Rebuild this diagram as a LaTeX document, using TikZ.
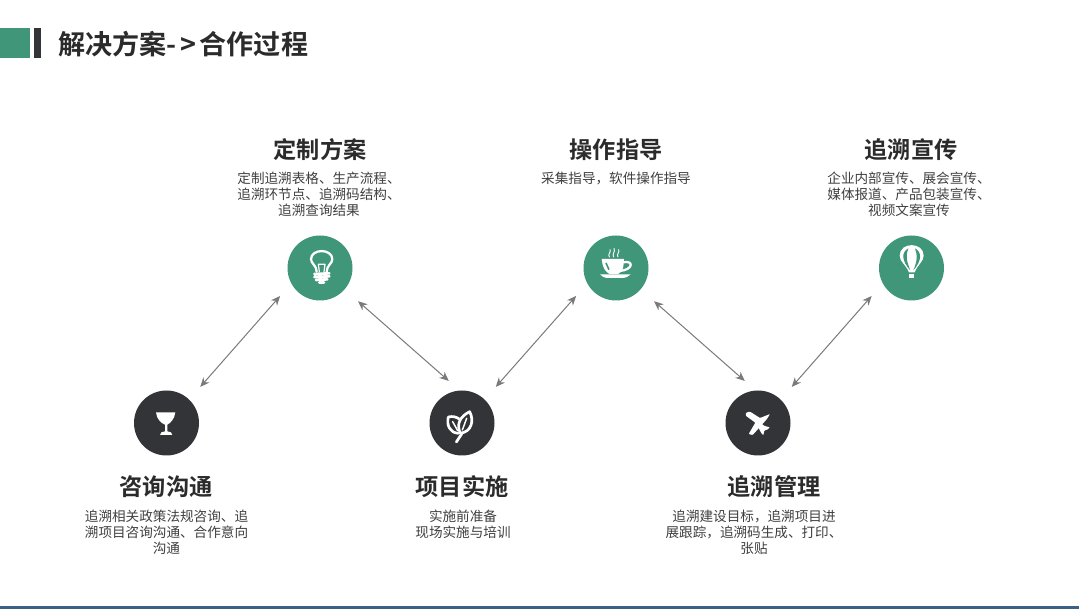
\documentclass[tikz,border=0pt]{standalone}
\usepackage{fontspec}
\setmainfont{Noto Sans CJK SC}[BoldFont={Noto Sans CJK SC Bold}]
\usetikzlibrary{arrows.meta}
\definecolor{brandgreen}{HTML}{3F9679}
\definecolor{branddark}{HTML}{333438}
\definecolor{headcol}{HTML}{2B2B2B}
\definecolor{bodycol}{HTML}{404040}
\definecolor{linkcol}{HTML}{7A7A7A}
\definecolor{footcol}{HTML}{3E5F86}
\tikzset{
  greendot/.style={circle,fill=brandgreen,minimum size=48.75pt,inner sep=0pt,outer sep=0pt},
  darkdot/.style={circle,fill=branddark,minimum size=48.75pt,inner sep=0pt,outer sep=0pt},
  headtext/.style={font=\fontsize{17.4}{20}\selectfont\bfseries,text=headcol,inner sep=0pt},
  bodytext/.style={font=\fontsize{10.2}{12}\selectfont,text=bodycol,align=center,inner sep=0pt},
  link/.style={draw=linkcol,line width=0.75pt,{Stealth[length=7pt,width=6pt]}-{Stealth[length=7pt,width=6pt]}},
  ico/.style={line width=1.7pt,draw=white,line cap=round,line join=round},
}
\begin{document}
\begin{tikzpicture}[x=0.75pt,y=-0.75pt]
\useasboundingbox (0,0) rectangle (1079,609);
\fill[white] (0,0) rectangle (1079,609);
% header
\fill[brandgreen] (0,28) rectangle (30,58);
\fill[branddark] (34,28) rectangle (41,58);
\node[anchor=west,inner sep=0pt,text=headcol,font=\fontsize{20.3}{24}\selectfont\bfseries] (title) at (58,44) {解决方案-\kern3pt>\kern2.5pt合作过程};
\fill[footcol] (0,606.5) rectangle (1079,609);
% circles
\node[darkdot] (c1) at (166.5,423) {};
\node[greendot] (c2) at (320,268) {};
\node[darkdot] (c3) at (462,423) {};
\node[greendot] (c4) at (616,268) {};
\node[darkdot] (c5) at (758,423) {};
\node[greendot] (c6) at (911.5,268) {};
% connectors
\draw[link,shorten <=12.7pt,shorten >=12.7pt] (c1.46) -- (c2.208);
\draw[link,shorten <=13.5pt,shorten >=10.9pt] (c2.-41) -- (c3.94);
\draw[link,shorten <=12.7pt,shorten >=12.7pt] (c3.46) -- (c4.208);
\draw[link,shorten <=13.5pt,shorten >=10.9pt] (c4.-41) -- (c5.94);
\draw[link,shorten <=12.7pt,shorten >=12.7pt] (c5.46) -- (c6.208);
% texts
\node[headtext] (h2) at (320,150) {定制方案};
\node[bodytext,anchor=north] (b2) at (319,171.5) {定制追溯表格、生产流程、\\追溯环节点、追溯码结构、\\追溯查询结果};
\node[headtext] (h4) at (616,150) {操作指导};
\node[bodytext,anchor=north] (b4) at (616,171.5) {采集指导，软件操作指导};
\node[headtext] (h6) at (911,150) {追溯宣传};
\node[bodytext,anchor=north] (b6) at (909,171.5) {企业内部宣传、展会宣传、\\媒体报道、产品包装宣传、\\视频文案宣传};
\node[headtext] (h1) at (166,487) {咨询沟通};
\node[bodytext,anchor=north] (b1) at (166.5,509.5) {追溯相关政策法规咨询、追\\溯项目咨询沟通、合作意向\\沟通};
\node[headtext] (h3) at (462,487) {项目实施};
\node[bodytext,anchor=north] (b3) at (463,509.5) {实施前准备\\现场实施与培训};
\node[headtext] (h5) at (774,487) {追溯管理};
\node[bodytext,anchor=north] (b5) at (754,509.5) {追溯建设目标，追溯项目进\\展跟踪，追溯码生成、打印、\\张贴};
% bulb
\begin{scope}[shift={(270,225)},x=0.25pt,y=-0.25pt]
\draw[ico] (140,140) .. controls (140,122) and (123,115) .. (123,103) .. controls (123,70) and (187,70) .. (187,103) .. controls (187,115) and (170,122) .. (170,140);
\draw[ico,line width=0.9pt] (148,140) -- (145,118) -- (165,118) -- (162,140);
\draw[ico,line width=2pt] (133,147) -- (178,145) (133,156) -- (178,154) (138,165) -- (172,163);
\draw[ico,line width=2pt] (148,173) -- (162,173);
\end{scope}
% cup
\begin{scope}[shift={(570,225)},x=0.25pt,y=-0.25pt]
\fill[white] (95,102) -- (162,102) -- (160,125) .. controls (157,138) and (152,142) .. (145,147) -- (118,147) .. controls (105,138) and (101,130) .. (98,120) -- cycle;
\draw[ico] (160,112) .. controls (192,105) and (190,134) .. (150,138);
\draw[brandgreen,line width=1.2pt] (108,114) -- (117,134);
\fill[white] (90,148) -- (182,148) .. controls (174,155) and (168,159) .. (160,159) -- (110,159) .. controls (102,159) and (97,154) .. (90,148) -- cycle;
\draw[ico,line width=0.7pt] (118,96) .. controls (112,88) and (124,82) .. (120,74)
  (131,96) .. controls (125,88) and (137,80) .. (132,70)
  (144,96) .. controls (138,88) and (150,82) .. (146,74);
\end{scope}
% balloon
\begin{scope}[shift={(865,225)},x=0.25pt,y=-0.25pt]
\fill[white] (132,142) .. controls (122,118) and (104,110) .. (104,92) .. controls (104,50) and (176,50) .. (176,92) .. controls (176,110) and (158,118) .. (149,142) -- cycle;
\fill[brandgreen] (130,70) .. controls (108,82) and (110,108) .. (136,136) .. controls (124,108) and (122,90) .. (130,70) -- cycle;
\fill[brandgreen] (150,70) .. controls (172,82) and (170,108) .. (145,136) .. controls (157,108) and (158,90) .. (150,70) -- cycle;
\fill[white] (133,146) rectangle (148,158);
\end{scope}
% glass
\begin{scope}[shift={(120,380)},x=0.25pt,y=-0.25pt]
\fill[white] (108,97) -- (166,97) .. controls (164,118) and (150,130) .. (142,134) -- (142,154) -- (153,157) -- (157,165) -- (120,165) -- (124,157) -- (135,154) -- (135,134) .. controls (124,130) and (110,118) .. (108,97) -- cycle;
\end{scope}
% leaves
\begin{scope}[shift={(415,380)},x=0.25pt,y=-0.25pt]
\draw[ico,line width=2pt] (130,160) .. controls (104,158) and (94,135) .. (100,111) .. controls (112,108) and (124,110) .. (134,118);
\draw[ico,line width=2pt] (136,160) .. controls (122,130) and (138,108) .. (164,95) .. controls (178,122) and (170,155) .. (136,160) -- cycle;
\draw[ico,line width=2pt] (124,186) -- (140,162);
\draw[ico,line width=1.1pt] (113,125) -- (128,152) (155,115) -- (142,150);
\end{scope}
% plane
\begin{scope}[shift={(710,380)},x=0.25pt,y=-0.25pt]
\fill[white,rounded corners=0.6pt] (180,102) -- (170,118) -- (128,165) -- (116,162) -- (136,128) -- (107,107) -- (108,98) -- (120,95) -- (150,114) -- cycle;
\fill[white,rounded corners=0.6pt] (150,128) -- (164,138) -- (180,142) -- (170,150) -- (163,151) -- (160,166) -- (153,158) -- (142,136) -- cycle;
\end{scope}
\end{tikzpicture}
\end{document}
